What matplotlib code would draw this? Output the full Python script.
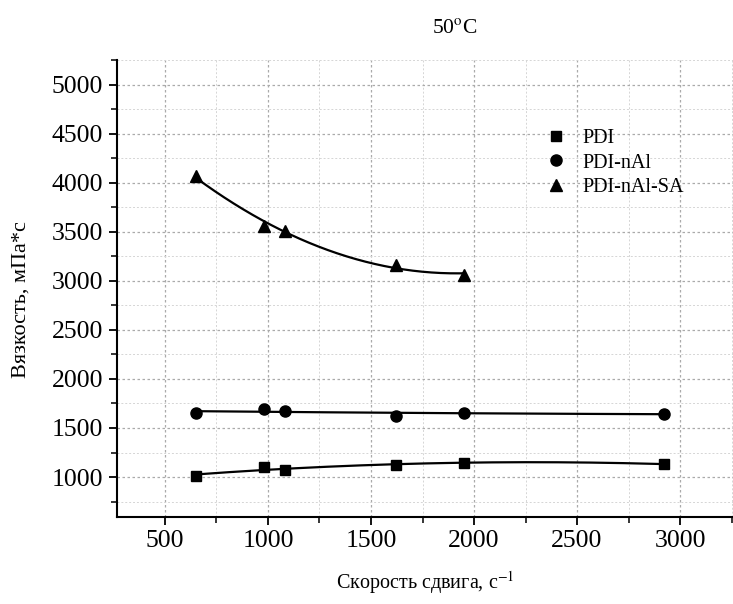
import matplotlib
matplotlib.use("Agg")
import matplotlib.pyplot as plt
import numpy as np
from matplotlib.ticker import MultipleLocator

plt.rcParams['font.family'] = ['Liberation Serif', 'DejaVu Serif']
plt.rcParams['mathtext.fontset'] = 'stix'

# shear rate, 1/s
shear = [650, 980, 1085, 1620, 1950, 2920]
shear_sa = [650, 980, 1085, 1620, 1950]

# viscosity, mPa*s
pdi = [1013, 1105, 1071, 1122, 1146, 1133]
pdi_nal = [1650, 1694, 1677, 1626, 1656, 1643]
pdi_nal_sa = [4071, 3561, 3510, 3163, 3061]

labels = ["PDI", "PDI-nAl", "PDI-nAl-SA"]
markers = ["s", "o", "^"]
msizes = [7.5, 8, 9]

fig = plt.figure(figsize=(7.33, 6.04), dpi=100)
ax = fig.add_axes([0.159, 0.144, 0.841, 0.757])

series = [(shear, pdi), (shear, pdi_nal), (shear_sa, pdi_nal_sa)]
for (xs, ys), lab, m, ms in zip(series, labels, markers, msizes):
    # smooth polynomial fit, like the original
    c = np.polyfit(xs, ys, 2)
    xx = np.linspace(min(xs), max(xs), 200)
    ax.plot(xx, np.polyval(c, xx), color="black", lw=1.6, zorder=2)
    ax.plot(xs, ys, m, color="black", ms=ms, label=lab, zorder=3)

ax.set_xlim(265, 3257)
ax.set_ylim(592, 5255)
ax.xaxis.set_major_locator(MultipleLocator(500))
ax.xaxis.set_minor_locator(MultipleLocator(250))
ax.yaxis.set_major_locator(MultipleLocator(500))
ax.yaxis.set_minor_locator(MultipleLocator(250))
ax.set_yticks(range(1000, 5001, 500))

ax.grid(which="major", color="#aaaaaa", ls=(0, (2, 2)), lw=0.9)
ax.grid(which="minor", color="#d5d5d5", ls=(0, (2, 2)), lw=0.7)
ax.set_axisbelow(True)

for s in ["top", "right"]:
    ax.spines[s].set_visible(False)
for s in ["left", "bottom"]:
    ax.spines[s].set_linewidth(1.5)

ax.tick_params(which="major", direction="out", length=6, width=1.3, labelsize=18.5)
ax.tick_params(which="minor", direction="out", length=4, width=1.1)

ax.set_xlabel("Скорость сдвига, с$^{-1}$", fontsize=14.5, labelpad=12)
ax.set_ylabel("Вязкость, мПа*с", fontsize=16)
ax.yaxis.set_label_coords(-0.139, 0.475)

fig.text(0.621, 0.953, "50$^{\\mathrm{o}}$C", fontsize=15.5, ha="center", va="center")

ax.legend(loc="upper left", bbox_to_anchor=(0.68, 0.87), frameon=False,
          fontsize=14.5, handlelength=1.0, handletextpad=0.8,
          labelspacing=0.25, borderpad=0)

fig.savefig("out.png", dpi=100)
